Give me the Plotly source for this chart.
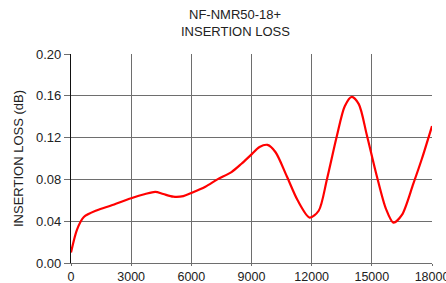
import plotly.graph_objects as go

freq_mhz = [0, 300, 640, 1300, 2000, 3000, 3700, 4200, 4600, 5100, 5600, 6000, 6700,
            7300, 8000, 8500, 8950, 9400, 9800, 10200, 10760, 11300, 11900, 12350,
            12760, 13250, 13650, 14000, 14350, 14750, 15250, 15700, 16075, 16500,
            17070, 17500, 18000]
loss_db = [0.010, 0.032, 0.044, 0.0505, 0.055, 0.062, 0.066, 0.068, 0.066, 0.0635, 0.064, 0.067, 0.073,
           0.080, 0.087, 0.095, 0.103, 0.111, 0.113, 0.106, 0.083, 0.060, 0.0435, 0.050,
           0.080, 0.121, 0.150, 0.159, 0.152, 0.1225, 0.083, 0.052, 0.0386, 0.046,
           0.076, 0.100, 0.131]

x_ticks = [0, 3000, 6000, 9000, 12000, 15000, 18000]
y_ticks = [0.00, 0.04, 0.08, 0.12, 0.16, 0.20]
title_lines = ["NF-NMR50-18+", "INSERTION LOSS"]

fig = go.Figure()
fig.add_trace(go.Scatter(x=freq_mhz, y=loss_db, mode="lines",
                         line=dict(color="#ff0000", width=2.2, shape="spline", smoothing=0.8),
                         showlegend=False, hoverinfo="skip"))

font = dict(family="Liberation Sans, Arial, sans-serif", size=13, color="#222222")
fig.update_layout(
    width=446, height=283,
    margin=dict(l=70.5, r=14, t=54, b=20, autoexpand=False),
    paper_bgcolor="white", plot_bgcolor="white",
    font=font,
)
for txt, yy in zip(title_lines, [1.191, 1.110]):
    fig.add_annotation(text=txt, xref="paper", yref="paper", x=0.455, y=yy,
                       xanchor="center", yanchor="middle", showarrow=False,
                       font=dict(size=13, color="#222222"))

fig.update_xaxes(range=[0, 18000], tickvals=x_ticks, ticktext=[str(v) for v in x_ticks],
                 showgrid=True, gridcolor="#6e6e6e", gridwidth=1.2,
                 showline=True, linecolor="#6e6e6e", linewidth=1.2,
                 ticks="outside", ticklen=2, tickcolor="#6e6e6e", zeroline=False,
                 automargin=False, ticklabeloverflow="allow", tickfont=dict(size=12.5))
fig.update_yaxes(range=[0, 0.20], tickvals=y_ticks, ticktext=[f"{v:.2f}" for v in y_ticks],
                 showgrid=True, gridcolor="#6e6e6e", gridwidth=1.2,
                 showline=True, linecolor="#111111", linewidth=1.2,
                 ticks="outside", ticklen=6, tickcolor="#6e6e6e", zeroline=False,
                 automargin=False, ticklabeloverflow="allow",
                 title=dict(text="INSERTION LOSS (dB)", standoff=9, font=dict(size=13)),
                 tickfont=dict(size=13))

fig.write_html("out.html", config={"displayModeBar": False},
               post_script="document.body.style.margin='0';document.body.style.padding='0';")
